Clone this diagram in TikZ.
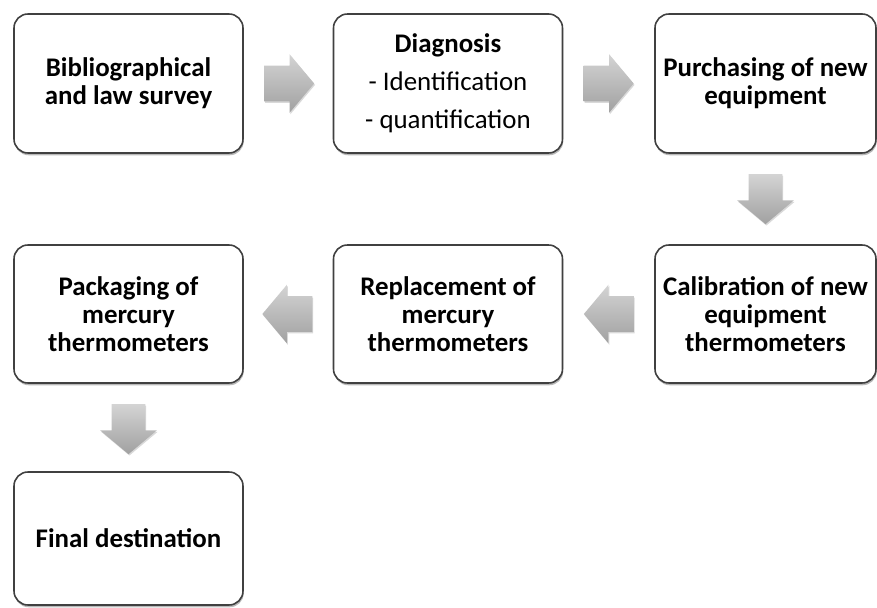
\documentclass[tikz,border=0pt]{standalone}
\usepackage{fontspec}
\setmainfont{Carlito}
\usetikzlibrary{shapes.arrows,shadows,calc}

\begin{document}
\begin{tikzpicture}[
        block/.style={
          draw=black!75,
          line width=0.9pt,
          rounded corners=0.28cm,
          fill=white,
          drop shadow={shadow xshift=0.4pt, shadow yshift=-1.3pt, fill=black!55},
          align=center,
          minimum width=4.58cm,
          minimum height=2.78cm,
          font=\fontsize{15.3}{15.9}\selectfont\bfseries
        },
        flow/.style={
          single arrow,
          draw=none,
          anchor=tail,
          top color=black!17,
          bottom color=black!37,
          minimum height=1.0cm,
          inner xsep=0pt, inner ysep=0.35cm,
          single arrow head extend=0.23cm,
          single arrow tip angle=100,
          drop shadow={shadow xshift=0.5pt, shadow yshift=-0.8pt, opacity=0.3}
        },
        flowdown/.style={flow, shape border rotate=270, inner xsep=0.33cm, inner ysep=0pt}
      ]
      \useasboundingbox (0,0) rectangle (17.54,-12.16);

      \node[block] (survey) at (2.57,-1.67)
        {Bibliographical\\and law survey};
      \node[block, font=\fontsize{15.3}{21.6}\selectfont] (diagnosis) at (8.96,-1.67)
        {\textbf{Diagnosis}\\- Identification\\- quantification};
      \node[block, minimum width=4.42cm] (purchase) at (15.31,-1.67)
        {Purchasing of new\\equipment};

      \node[block, minimum width=4.42cm, minimum height=2.76cm] (calibration) at (15.31,-6.28)
        {Calibration of new\\equipment\\thermometers};
      \node[block, minimum height=2.76cm] (replacement) at (8.96,-6.28)
        {Replacement of\\mercury\\thermometers};
      \node[block, minimum height=2.76cm] (packaging) at (2.57,-6.28)
        {Packaging of\\mercury\\thermometers};

      \node[block, minimum height=2.66cm] (destination) at (2.57,-10.77)
        {Final destination};

      \node[flow] (survey2diagnosis) at ($(survey.east)!0.4cm!(diagnosis.west)$) {};
      \node[flow] (diagnosis2purchase) at ($(diagnosis.east)!0.4cm!(purchase.west)$) {};
      \node[flowdown] (purchase2calibration) at ($(purchase.south)!0.4cm!(calibration.north)$) {};
      \node[flow, shape border rotate=180] (calibration2replacement)
        at ($(calibration.west)!0.4cm!(replacement.east)$) {};
      \node[flow, shape border rotate=180] (replacement2packaging)
        at ($(replacement.west)!0.4cm!(packaging.east)$) {};
      \node[flowdown] (packaging2destination) at ($(packaging.south)!0.4cm!(destination.north)$) {};
    \end{tikzpicture}
\end{document}
